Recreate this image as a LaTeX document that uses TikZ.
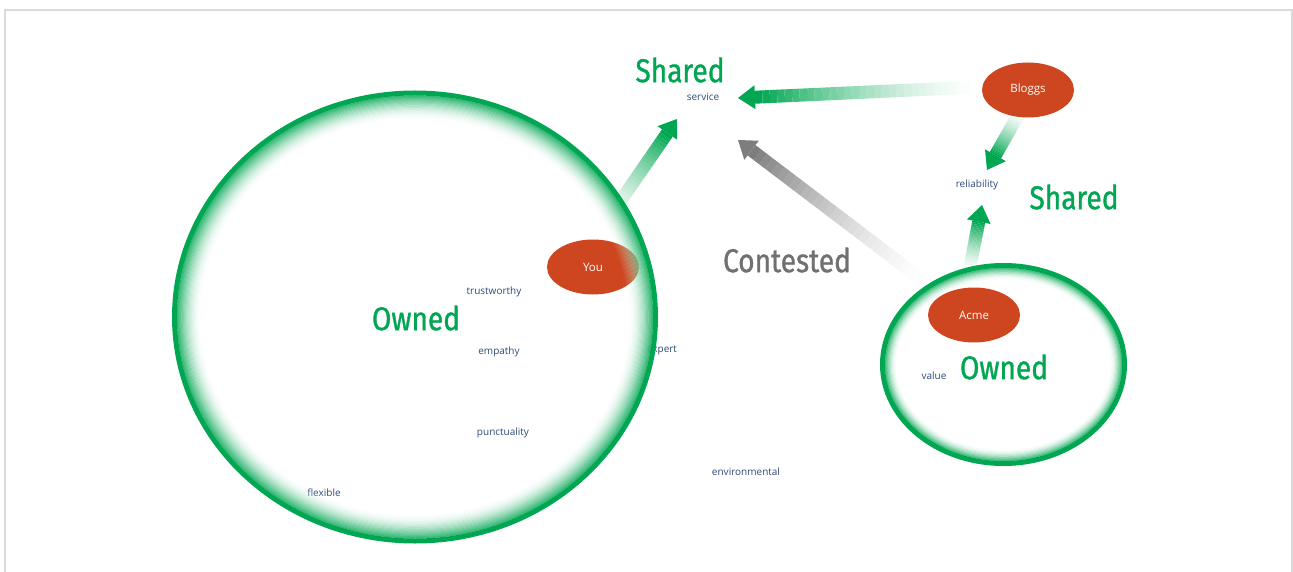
\documentclass[tikz,border=0pt]{standalone}
\usepackage{fontspec}
\setmainfont{Open Sans}
\newfontfamily\claimfont[FakeStretch=0.85,FakeBold=1.0]{Fira Sans}
\usetikzlibrary{calc,shapes.geometric}

\definecolor{owngreen}{RGB}{0,166,81}
\definecolor{partyred}{RGB}{205,70,32}
\definecolor{wordblue}{RGB}{45,75,120}
\definecolor{contestgray}{RGB}{112,112,112}
\definecolor{arrowgray}{RGB}{125,125,125}
\definecolor{framegray}{RGB}{218,218,218}

\tikzset{
  word/.style={text=wordblue,font=\fontsize{10}{12}\selectfont},
  party/.style={ellipse,fill=partyred,text=white,minimum width=92,minimum height=55,
    inner sep=0pt,font=\fontsize{11.5}{13}\selectfont},
  claim/.style={text=owngreen,font=\claimfont\fontsize{33}{36}\selectfont},
}

% broad arrow whose shaft fades in from the tail
\newcommand\fatarrow[3][owngreen]{%
  \coordinate (fa-base) at ($(#3)!17pt!(#2)$);
  \foreach \i [evaluate=\i as \ta using (\i-1)/30, evaluate=\i as \tb using \i/30,
      evaluate=\i as \op using (\i/30)^1.6] in {1,...,30}
    \draw[line width=13, draw=#1, draw opacity=\op] ($(#2)!\ta!(fa-base)$) -- ($(#2)!\tb!(fa-base)$);
  \fill[#1] (#3) -- ($(fa-base)!12pt!90:(#3)$) -- ($(fa-base)!12pt!-90:(#3)$) -- cycle;
}

% green rim that fades towards the inside (#4 = number of 1.1pt steps)
\newcommand\glowring[4]{%
  \foreach \k in {1,...,#4} {
    \pgfmathsetmacro\glowpct{85*(1-\k/#4)}
    \pgfmathsetmacro\glowop{(1-\k/#4)^1.3}
    \draw[line width=1.5, draw=owngreen!\glowpct!white, draw opacity=\glowop]
      (#1) ellipse ({#2-4.5-1.1*\k} and {#3-4.5-1.1*\k});
  }
  \draw[owngreen, line width=5] (#1) ellipse ({#2-2.5} and {#3-2.5});
}

\begin{document}
\begin{tikzpicture}[x=1pt,y=-1pt]
  \useasboundingbox (0,0) rectangle (1293,572);
  \draw[framegray,line width=2] (5.3,572) -- (5.3,10.3) -- (1291.5,10.3) -- (1291.5,572);

  \node[party] (you) at (593,267) {You};
  \node[party] (bloggs) at (1028,90) {Bloggs};

  \node[word] (service) at (703,97) {service};
  \node[word] (reliability) at (977,185) {reliability};
  \node[word] (trustworthy) at (494,292) {trustworthy};
  \node[word] (empathy) at (499,352) {empathy};
  \node[word] (expert) at (662,350) {expert};
  \node[word] (punctuality) at (503,433) {punctuality};
  \node[word] (flexible) at (324,493) {flexible};
  \node[word] (value) at (934,376) {value};
  \node[word] (environmental) at (746,472) {environmental};

  \coordinate (you-out) at (606,222);
  \coordinate (service-sw) at (677,119);
  \coordinate (bloggs-w) at (978,87);
  \coordinate (service-e) at (738,98);
  \coordinate (bloggs-s) at (1020,112);
  \coordinate (reliability-n) at (987,170);
  \coordinate (acme-n) at (969,272);
  \coordinate (reliability-s) at (982,205);
  \coordinate (acme-nw) at (925,282);
  \coordinate (service-se) at (738,140);

  \fatarrow{you-out}{service-sw}
  \fatarrow{bloggs-w}{service-e}
  \fatarrow{bloggs-s}{reliability-n}
  \fatarrow{acme-n}{reliability-s}
  \fatarrow[arrowgray]{acme-nw}{service-se}

  \coordinate (big) at (415,317);
  \coordinate (small) at (1003.5,364.5);
  \glowring{big}{243}{226.5}{24}
  \glowring{small}{123.5}{101.5}{12}

  \node[party] (acme) at (974,315) {Acme};

  \node[claim] (shared1) at (680,70) {Shared};
  \node[claim] (shared2) at (1074,197) {Shared};
  \node[claim,text=contestgray] (contested) at (787,260) {Contested};
  \node[claim] (owned1) at (416,318) {Owned};
  \node[claim] (owned2) at (1004,367) {Owned};
\end{tikzpicture}
\end{document}
